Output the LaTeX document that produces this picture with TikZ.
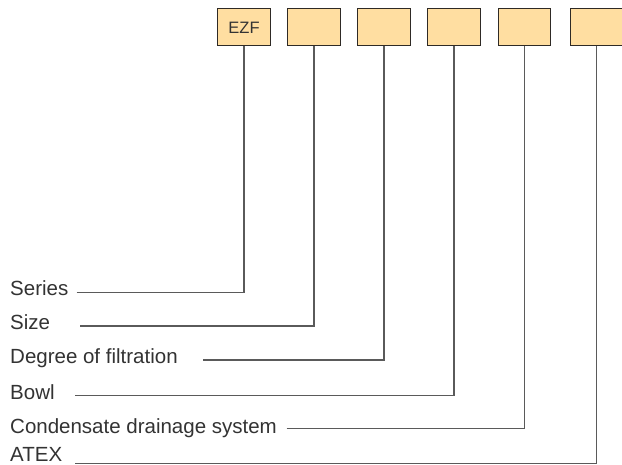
\documentclass[tikz,border=0pt]{standalone}
\usepackage{fontspec}
\setmainfont{Liberation Sans}
\definecolor{boxfill}{HTML}{FFDEA1}
\definecolor{boxline}{HTML}{2E2A26}
\definecolor{connline}{HTML}{5A5A5A}
\definecolor{txt}{HTML}{333333}
\begin{document}
\begin{tikzpicture}[x=1pt,y=-1pt,
  codebox/.style={draw=boxline,fill=boxfill,line width=1pt,minimum width=52.5pt,minimum height=37pt,inner sep=0pt,font=\fontsize{16.5}{16.5}\selectfont,text=txt},
  lbl/.style={anchor=base west,inner sep=0pt,font=\fontsize{20.5}{21}\selectfont,text=txt},
  conn/.style={draw=connline,line width=1.2pt}]
\useasboundingbox (0,0) rectangle (622,465);
\fill[white] (0,0) rectangle (622,465);
% boxes
\node[codebox] (b1) at (244,27.5) {EZF};
\node[codebox] (b2) at (314,27.5) {};
\node[codebox] (b3) at (384,27.5) {};
\node[codebox] (b4) at (454,27.5) {};
\node[codebox] (b5) at (524.3,27.5) {};
\node[codebox,minimum width=52pt] (b6) at (596.5,27.5) {};
% labels
\node[lbl] (l1) at (10,296) {Series};
\node[lbl] (l2) at (10,329.5) {Size};
\node[lbl] (l3) at (10,364) {Degree of filtration};
\node[lbl] (l4) at (10,399.5) {Bowl};
\node[lbl] (l5) at (10,433) {Condensate drainage system};
\node[lbl] (l6) at (10,461.5) {ATEX};
% connector start points
\coordinate (s1) at (76.7,292.7);
\coordinate (s2) at (80,326);
\coordinate (s3) at (203.3,360);
\coordinate (s4) at (75,395.7);
\coordinate (s5) at (286.7,428.3);
\coordinate (s6) at (75,463.5);
% connectors
\draw[conn] (s1) -| (b1.south);
\draw[conn] (s2) -| (b2.south);
\draw[conn] (s3) -| (b3.south);
\draw[conn] (s4) -| (b4.south);
\draw[conn] (s5) -| (b5.south);
\draw[conn] (s6) -| (b6.south);
\end{tikzpicture}
\end{document}
